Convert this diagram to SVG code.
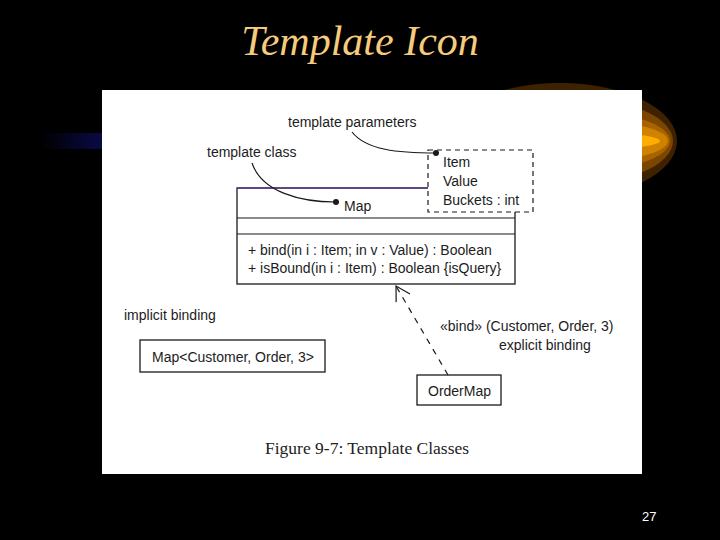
<svg xmlns="http://www.w3.org/2000/svg" width="720" height="540" viewBox="0 0 720 540">
  <style>
    .lbl { font-family: "Liberation Sans", Arial, sans-serif; font-size: 14px; fill: #1c1c1c; }
    .box { fill: #ffffff; stroke: #1a1a1a; stroke-width: 1.3; }
    .line { fill: none; stroke: #1a1a1a; stroke-width: 1.2; }
  </style>
  <defs>
    <linearGradient id="blue" x1="0" y1="0" x2="1" y2="0">
      <stop offset="0" stop-color="#000000"/>
      <stop offset="1" stop-color="#0a0a48"/>
    </linearGradient>
    <marker id="open" viewBox="0 0 20 20" refX="18" refY="10" markerWidth="20" markerHeight="20" markerUnits="userSpaceOnUse" orient="auto">
      <path d="M4,2 L18,10 L4,18" fill="none" stroke="#1a1a1a" stroke-width="1.2"/>
    </marker>
  </defs>

  <!-- background -->
  <rect x="0" y="0" width="720" height="540" fill="#000000"/>
  <rect x="40" y="133" width="64" height="16" fill="url(#blue)"/>
  <g id="glow">
    <ellipse cx="560" cy="141" rx="117" ry="58" fill="#3e2200"/>
    <ellipse cx="570" cy="141" rx="103" ry="44" fill="#7a4600"/>
    <ellipse cx="580" cy="141" rx="90" ry="30" fill="#a86200"/>
    <ellipse cx="590" cy="141" rx="78" ry="20" fill="#cf8200"/>
    <ellipse cx="600" cy="141" rx="60" ry="8" fill="#ffae00"/>
  </g>

  <text x="360" y="55" text-anchor="middle" font-family="'Liberation Serif', 'Times New Roman', serif" font-style="italic" font-size="42" fill="#f6cb7c">Template Icon</text>

  <!-- white panel -->
  <rect x="102" y="90" width="540" height="384" fill="#ffffff"/>

  <!-- labels -->
  <g id="labels">
    <text class="lbl" x="288" y="127">template parameters</text>
    <text class="lbl" x="207" y="157">template class</text>
    <text class="lbl" x="124" y="320">implicit binding</text>
    <text class="lbl" x="440" y="331">«bind» (Customer, Order, 3)</text>
    <text class="lbl" x="499" y="350">explicit binding</text>
  </g>

  <!-- Map template class -->
  <g id="map-class">
    <rect class="box" x="237" y="188" width="278" height="96"/>
    <line x1="237" y1="188" x2="515" y2="188" stroke="#5b3f8c" stroke-width="1.6"/>
    <line class="line" x1="237" y1="218" x2="515" y2="218"/>
    <line class="line" x1="237" y1="234" x2="515" y2="234"/>
    <text class="lbl" x="344" y="211">Map</text>
    <text class="lbl" x="248" y="255">+ bind(in i : Item; in v : Value) : Boolean</text>
    <text class="lbl" x="248" y="273">+ isBound(in i : Item) : Boolean {isQuery}</text>
  </g>

  <!-- template parameters box -->
  <g id="template-params">
    <rect x="428" y="150" width="105" height="62" fill="#ffffff" stroke="#1a1a1a" stroke-width="1.2" stroke-dasharray="5,4"/>
    <text class="lbl" x="443" y="167">Item</text>
    <text class="lbl" x="443" y="186">Value</text>
    <text class="lbl" x="443" y="205">Buckets : int</text>
  </g>

  <!-- implicit binding instance -->
  <g id="map-instance">
    <rect class="box" x="140" y="340" width="185" height="32"/>
    <text class="lbl" x="152" y="362">Map&lt;Customer, Order, 3&gt;</text>
  </g>

  <!-- OrderMap -->
  <g id="ordermap">
    <rect class="box" x="417" y="375" width="84" height="30"/>
    <text class="lbl" x="428" y="396">OrderMap</text>
  </g>

  <!-- connectors -->
  <g id="connectors">
    <path class="line" d="M352,132 C366,150 398,153 436,153"/>
    <circle cx="436" cy="153" r="3" fill="#1a1a1a"/>
    <path class="line" d="M252,163 C262,192 300,202 336,202"/>
    <circle cx="336" cy="202" r="3" fill="#1a1a1a"/>
    <path class="line" d="M448,375 L396,286" stroke-dasharray="6,6" marker-end="url(#open)"/>
  </g>

  <text x="265" y="454" font-family="'Liberation Serif', 'Times New Roman', serif" font-size="17.5" fill="#222222">Figure 9-7: Template Classes</text>
  <text x="642" y="521" font-family="'Liberation Sans', Arial, sans-serif" font-size="13" fill="#ffffff">27</text>
</svg>
